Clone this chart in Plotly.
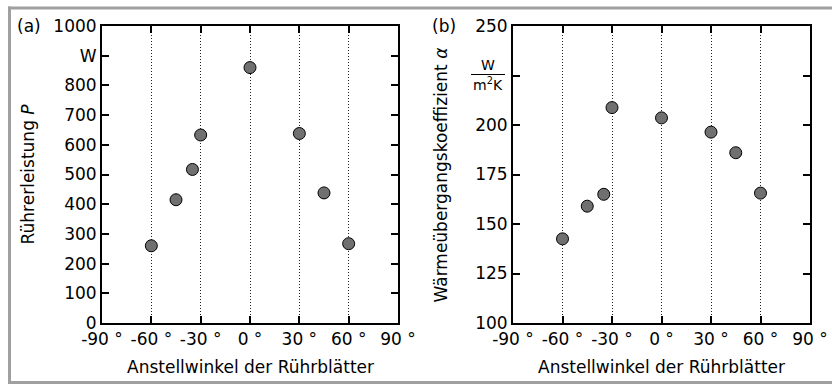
import plotly.graph_objects as go

# Data
angles = [-60, -45, -35, -30, 0, 30, 45, 60]
power_W = [260, 415, 517, 633, 860, 638, 438, 267]
alpha_W_m2K = [142.5, 159, 165, 208.8, 203.6, 196.4, 186, 165.6]

x_tickvals = [-90, -60, -30, 0, 30, 60, 90]
x_ticktext = ["-90 °", "-60 °", "-30 °", "0 °", "30 °", "60 °", "90 °"]
ya_tickvals = [0, 100, 200, 300, 400, 500, 600, 700, 800, 900, 1000]
ya_ticktext = ["0", "100", "200", "300", "400", "500", "600", "700", "800", "W", "1000"]
yb_tickvals = [100, 125, 150, 175, 200, 225, 250]
yb_ticktext = ["100", "125", "150", "175", "200", "", "250"]

W, H = 832, 384
FONT = "DejaVu Sans"

def px(x):
    return x / W

def py(y):
    return 1 - y / H

fig = go.Figure()

marker = dict(size=12, color="#707070", line=dict(color="black", width=1))
fig.add_trace(go.Scatter(x=angles, y=power_W, mode="markers", marker=marker,
                         xaxis="x", yaxis="y", showlegend=False))
fig.add_trace(go.Scatter(x=angles, y=alpha_W_m2K, mode="markers", marker=marker,
                         xaxis="x2", yaxis="y2", showlegend=False))

common_x = dict(range=[-90, 90], tickvals=x_tickvals, ticktext=x_ticktext,
                showline=True, linecolor="black", linewidth=2, mirror="ticks",
                ticks="inside", ticklen=7, tickwidth=1.5, tickcolor="black",
                showgrid=True, gridcolor="#222222", gridwidth=1, griddash="1px,2px",
                zeroline=False, automargin=False,
                tickfont=dict(family=FONT, size=17, color="black"))
common_y = dict(showline=True, linecolor="black", linewidth=2, mirror="ticks",
                ticks="inside", ticklen=7, tickwidth=1.5, tickcolor="black",
                showgrid=False, zeroline=False, automargin=False,
                tickfont=dict(family=FONT, size=17, color="black"))

ydom = [py(323), py(26)]
fig.update_layout(
    template="none",
    width=W, height=H,
    margin=dict(l=0, r=0, t=0, b=0, pad=0),
    paper_bgcolor="white", plot_bgcolor="white",
    xaxis=dict(domain=[px(102), px(398)], anchor="y", **common_x),
    yaxis=dict(domain=ydom, anchor="x", range=[0, 1000], tickvals=ya_tickvals,
               ticktext=ya_ticktext, **common_y),
    xaxis2=dict(domain=[px(513), px(810)], anchor="y2", **common_x),
    yaxis2=dict(domain=ydom, anchor="x2", range=[100, 250], tickvals=yb_tickvals,
                ticktext=yb_ticktext, **common_y),
)

tf = dict(family=FONT, size=17, color="black")
ann = [
    dict(text="Anstellwinkel der Rührblätter", x=px(250), y=py(367)),
    dict(text="Anstellwinkel der Rührblätter", x=px(661), y=py(367)),
    dict(text="Rührerleistung <i>P</i>", x=px(28), y=py(174.5), textangle=-90),
    dict(text="Wärmeübergangskoeffizient <i>α</i>", x=px(441), y=py(174.5), textangle=-90),
    dict(text="(a)", x=px(29), y=py(26)),
    dict(text="(b)", x=px(444), y=py(26)),
]
for a in ann:
    fig.add_annotation(xref="paper", yref="paper", showarrow=False,
                       xanchor="center", yanchor="middle", font=tf, **a)

uf = dict(family=FONT, size=14, color="black")
fig.add_annotation(text="W", xref="paper", yref="paper", x=px(488), y=py(65),
                   showarrow=False, xanchor="center", yanchor="middle", font=uf)
fig.add_annotation(text="m<sup>2</sup>K", xref="paper", yref="paper", x=px(488), y=py(84),
                   showarrow=False, xanchor="center", yanchor="middle", font=uf)
fig.add_shape(type="line", xref="paper", yref="paper", x0=px(471), x1=px(505),
              y0=py(74.5), y1=py(74.5), line=dict(color="black", width=1))

# outer frame (top, left, bottom edges)
frame = dict(color="#a0a0a0", width=3)
fig.add_shape(type="line", xref="paper", yref="paper", x0=px(8), x1=px(840),
              y0=py(8), y1=py(8), line=frame, layer="below")
fig.add_shape(type="line", xref="paper", yref="paper", x0=px(9.5), x1=px(9.5),
              y0=py(6.5), y1=py(384), line=frame, layer="below")
fig.add_shape(type="line", xref="paper", yref="paper", x0=px(8), x1=px(840),
              y0=py(382.5), y1=py(382.5), line=frame, layer="below")

fig.write_html("out.html")
